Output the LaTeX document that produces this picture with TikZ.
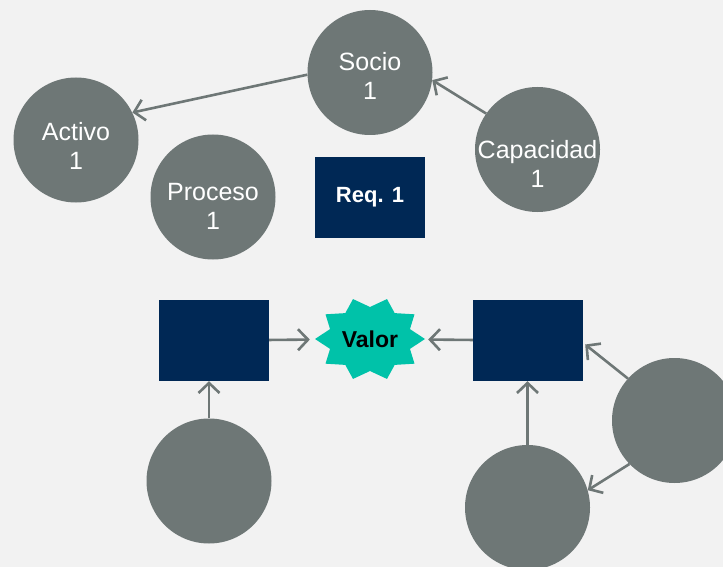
\documentclass[tikz,border=0pt]{standalone}
\usepackage{fontspec}
\setmainfont{Liberation Sans}
\usetikzlibrary{arrows.meta,shapes.geometric}

\definecolor{bgcol}{HTML}{F2F2F2}
\definecolor{rolecol}{HTML}{6E7776}
\definecolor{reqcol}{HTML}{002855}
\definecolor{valcol}{HTML}{00C2A9}

\tikzset{
  role/.style={circle,fill=rolecol,minimum size=125pt,inner sep=0pt},
  roletext/.style={text=white,align=center,inner sep=0pt,font=\fontsize{25}{29}\selectfont},
  reqbox/.style={rectangle,fill=reqcol,text=white,minimum width=110pt,minimum height=81pt,
    font=\fontsize{22}{26}\selectfont\bfseries},
  valnode/.style={ellipse,minimum width=110pt,minimum height=84pt,
    font=\fontsize{23}{27}\selectfont\bfseries},
  link/.style={-{Straight Barb[length=10pt,width=21pt]},line width=2.6pt,draw=rolecol}
}

\begin{document}
\begin{tikzpicture}[x=1pt,y=-1pt]
\useasboundingbox (0,0) rectangle (723,567);
\fill [bgcol] (0,0) rectangle (723,567);
\clip (0,0) rectangle (723,567);

% upper group
\node [role,label={[roletext,yshift=-3.5pt]center:{Socio\\1}}] (soc) at(370,72.5){};
\node [role,label={[roletext,yshift=-6pt]center:{Activo\\1}}] (act) at(76,140){};
\node [role,label={[roletext,yshift=-9pt]center:{Proceso\\1}}] (proc) at(213,197){};
\node [role,label={[roletext,yshift=-14pt]center:{Capacidad\\1}}] (cap) at(537.5,149.5){};
\node [reqbox] (req) at(370,197.5){Req. 1};

% lower group
\fill [valcol,shift={(370,339)}] (0:55 and 42)
  \foreach \a in {0,36,...,324}{ -- (\a+18:42 and 32) -- (\a+36:55 and 42)} -- cycle;
\node [valnode] (val) at(370,339){Valor};
\node [reqbox] (lbox) at(214,340.5){};
\node [reqbox] (rbox) at(528,340.5){};
\node [role] (lcir) at(209,481){};
\node [role] (bcir) at(527.5,507.5){};
\node [role] (rcir) at(674.5,420.5){};

\draw [link] (soc.182) -- (act.26);
\draw [link] (cap.145) -- (soc.353);
\draw [link,shorten >=5pt] (lbox) -- (val);
\draw [link,shorten >=3pt] (rbox) -- (val);
\draw [link] (lcir.north) -- (lcir.north|-lbox.south);
\draw [link] (bcir.north) -- (bcir.north|-rbox.south);
\draw [link] (rcir.138) -- ([xshift=2pt,yshift=-4pt]rbox.east);
\draw [link] (rcir.224) -- (bcir.16);
\end{tikzpicture}
\end{document}
